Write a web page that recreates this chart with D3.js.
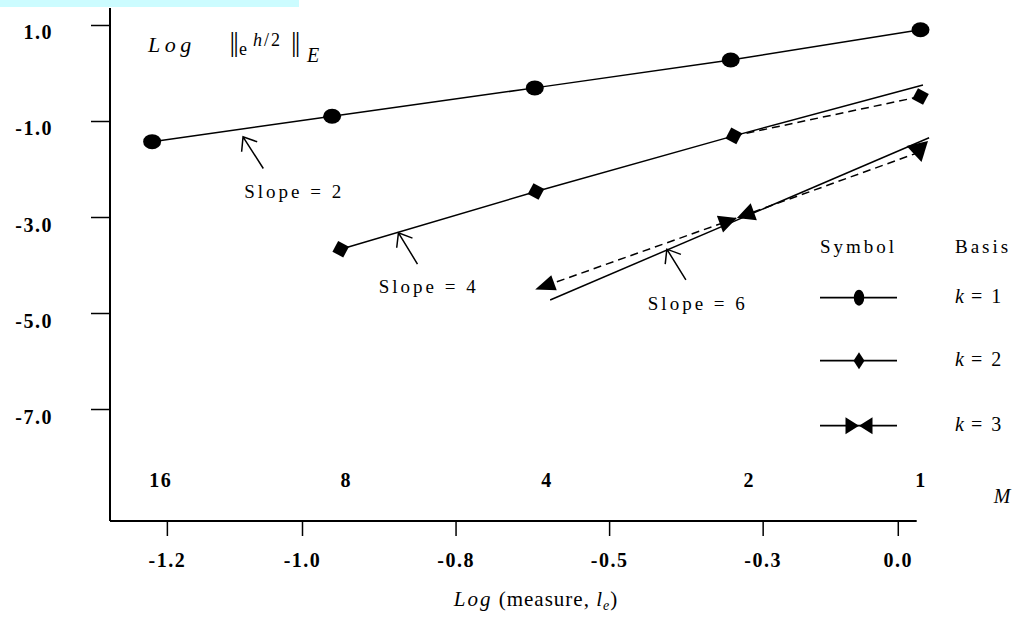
<!DOCTYPE html>
<html>
<head>
<meta charset="utf-8">
<script src="https://cdn.jsdelivr.net/npm/d3@7"></script>
<style>
  html, body { margin: 0; padding: 0; background: #fff; }
  svg { display: block; }
  text { font-family: "Liberation Serif", "Times New Roman", serif; fill: #000; }
</style>
</head>
<body>
<svg id="chart" width="1022" height="623"></svg>
<script>
// ---------------- data ----------------
const xTickValues = [-1.22, -1.0, -0.75, -0.5, -0.25, -0.03];
const xTickLabels = ["-1.2", "-1.0", "-0.8", "-0.5", "-0.3", "0.0"];
const yTickValues = [1, -1, -3, -5, -7];
const yTickLabels = ["1.0", "-1.0", "-3.0", "-5.0", "-7.0"];
const meshLabels = ["16", "8", "4", "2", "1"];
const meshLabelX = [-1.23, -0.928, -0.601, -0.272, 0.008];

// k = 1 (circles)
const k1X = [-1.244, -0.951, -0.621, -0.302, 0.007];
const k1Y = [-1.43, -0.90, -0.31, 0.27, 0.90];
// k = 2 (diamonds)
const k2X = [-0.937, -0.619, -0.297, 0.007];
const k2Y = [-3.67, -2.47, -1.31, -0.49];
// k = 2 slope-4 reference continuation (end point)
const k2RefEndX = [0.011];
const k2RefEndY = [-0.25];
// k = 3 (triangles)
const k3X = [-0.605, -0.292, 0.005];
const k3Y = [-4.44, -3.02, -1.65];
// k = 3 slope-6 reference line
const k3RefX = [-0.596, 0.021];
const k3RefY = [-4.73, -1.35];

// slope annotations
const slopeLabels = ["Slope = 2", "Slope = 4", "Slope = 6"];
const slopeTextX = [-1.094, -0.875, -0.437];
const slopeTextY = [-2.60, -4.58, -4.94];
const arrowTipX = [-1.096, -0.843, -0.406];
const arrowTipY = [-1.33, -3.33, -3.67];
const arrowTailX = [-1.063, -0.812, -0.375];
const arrowTailY = [-1.99, -3.98, -4.31];

// legend
const legendKeys = ["k = 1", "k = 2", "k = 3"];

// ---------------- scales ----------------
const svg = d3.select("#chart");
const x = d3.scaleLinear().domain([-1.3126, 0.0008]).range([110, 916.7]);
const y = d3.scaleLinear().domain([-9.333, 1.354]).range([521, 8]);

// top cyan band
svg.append("rect").attr("x", 0).attr("y", 0).attr("width", 299).attr("height", 7).attr("fill", "#ccfcff");

// ---------------- axes ----------------
const yAxis = d3.axisLeft(y).tickValues(yTickValues)
  .tickFormat((d, i) => yTickLabels[i]).tickSize(19).tickPadding(38);
const gy = svg.append("g").attr("transform", "translate(110,0)").call(yAxis);
gy.select(".domain").attr("d", `M0,${y.range()[1]}V${y.range()[0]}`).attr("stroke", "#000").attr("stroke-width", 2);
gy.selectAll(".tick line").attr("stroke", "#000").attr("stroke-width", 1.5);
gy.selectAll(".tick text").attr("dy", 14).attr("font-size", 20).attr("font-weight", "bold")
  .attr("letter-spacing", 1.5).attr("font-family", "Liberation Serif, serif").attr("fill", "#000");

const xAxis = d3.axisBottom(x).tickValues(xTickValues)
  .tickFormat((d, i) => xTickLabels[i]).tickSize(15).tickPadding(31);
const gx = svg.append("g").attr("transform", "translate(0,521)").call(xAxis);
gx.select(".domain").attr("d", `M${x.range()[0]},0H${x.range()[1]}`).attr("stroke", "#000").attr("stroke-width", 2);
gx.selectAll(".tick line").attr("stroke", "#000").attr("stroke-width", 1.5);
gx.selectAll(".tick text").attr("dy", 0).attr("font-size", 20).attr("font-weight", "bold")
  .attr("letter-spacing", 1.5).attr("font-family", "Liberation Serif, serif").attr("fill", "#000");

// mesh labels M
svg.append("g").selectAll("text").data(meshLabels).join("text")
  .attr("x", (d, i) => x(meshLabelX[i])).attr("y", 487)
  .attr("text-anchor", "middle").attr("font-size", 20).attr("font-weight", "bold")
  .attr("letter-spacing", 1.5).text(d => d);
svg.append("text").attr("x", 1002).attr("y", 503).attr("text-anchor", "middle")
  .attr("font-size", 20).attr("font-style", "italic").text("M");

// axis title
const title = svg.append("text").attr("x", 536).attr("y", 606).attr("text-anchor", "middle")
  .attr("font-size", 21).attr("letter-spacing", 1);
title.append("tspan").attr("font-style", "italic").attr("letter-spacing", 2).text("Log");
title.append("tspan").text(" (measure, ");
title.append("tspan").attr("font-style", "italic").text("l");
title.append("tspan").attr("font-style", "italic").attr("font-size", 14).attr("dy", 4).text("e");
title.append("tspan").attr("dy", -4).text(")");

// y label annotation
svg.append("text").attr("x", 148).attr("y", 52).attr("font-size", 22).attr("font-style", "italic")
  .attr("letter-spacing", 4.5).text("Log");
svg.append("text").attr("x", 229.5).attr("y", 51).attr("font-size", 28).attr("letter-spacing", -1.8).text("||");
svg.append("text").attr("x", 239).attr("y", 55).attr("font-size", 18).text("e");
const sup = svg.append("text").attr("x", 253).attr("y", 46).attr("font-size", 18).attr("letter-spacing", 2);
sup.append("tspan").attr("font-style", "italic").text("h");
sup.append("tspan").text("/2");
svg.append("text").attr("x", 291).attr("y", 51).attr("font-size", 28).attr("letter-spacing", -1.8).text("||");
svg.append("text").attr("x", 307).attr("y", 62).attr("font-size", 20).attr("font-style", "italic").text("E");

// ---------------- series ----------------
const line = d3.line().x(d => x(d[0])).y(d => y(d[1]));
const plot = svg.append("g");

// k = 1
const k1Pts = k1X.map((v, i) => [v, k1Y[i]]);
plot.append("path").attr("d", line(k1Pts)).attr("fill", "none").attr("stroke", "#000").attr("stroke-width", 1.5);
plot.selectAll(".c1").data(k1Pts).join("ellipse")
  .attr("cx", d => x(d[0])).attr("cy", d => y(d[1])).attr("rx", 9).attr("ry", 7.5).attr("fill", "#000");

// k = 2
const k2Pts = k2X.map((v, i) => [v, k2Y[i]]);
const k2Solid = k2Pts.slice(0, 3).concat([[k2RefEndX[0], k2RefEndY[0]]]);
plot.append("path").attr("d", line(k2Solid)).attr("fill", "none").attr("stroke", "#000").attr("stroke-width", 1.5);
plot.append("path").attr("d", line(k2Pts.slice(2))).attr("fill", "none").attr("stroke", "#000")
  .attr("stroke-width", 1.5).attr("stroke-dasharray", "8,5");
plot.selectAll(".d2").data(k2Pts).join("path")
  .attr("transform", d => `translate(${x(d[0])},${y(d[1])}) rotate(28)`)
  .attr("d", d3.symbol().type(d3.symbolSquare).size(150)()).attr("fill", "#000");

// k = 3
const k3Pts = k3X.map((v, i) => [v, k3Y[i]]);
const k3Ref = k3RefX.map((v, i) => [v, k3RefY[i]]);
plot.append("path").attr("d", line(k3Ref)).attr("fill", "none").attr("stroke", "#000").attr("stroke-width", 1.5);
plot.append("path").attr("d", line(k3Pts)).attr("fill", "none").attr("stroke", "#000")
  .attr("stroke-width", 1.5).attr("stroke-dasharray", "8,5");
const bowtie = (L, b) => `M${-L},${-b}L0,0L${-L},${b}ZM${L},${-b}L0,0L${L},${b}Z`;
const k3Shapes = [
  "M10,-8L-10,0L10,8Z",          // left end: triangle pointing left
  bowtie(18, 9),                  // middle: bow-tie
  "M-11,-9L11,-9L0,10Z"           // right end: triangle pointing down
];
const k3Rot = [-20, -20, -13];
plot.selectAll(".t3").data(k3Pts).join("path")
  .attr("transform", (d, i) => `translate(${x(d[0])},${y(d[1])}) rotate(${k3Rot[i]})`)
  .attr("d", (d, i) => k3Shapes[i]).attr("fill", "#000");

// ---------------- slope annotations ----------------
const ann = svg.append("g");
slopeLabels.forEach((lab, i) => {
  const tx = x(arrowTipX[i]), ty = y(arrowTipY[i]);
  const bx = x(arrowTailX[i]), by = y(arrowTailY[i]);
  const ang = Math.atan2(by - ty, bx - tx);
  const len = 15, spread = 38 * Math.PI / 180;
  const a1 = [tx + len * Math.cos(ang + spread), ty + len * Math.sin(ang + spread)];
  const a2 = [tx + len * Math.cos(ang - spread), ty + len * Math.sin(ang - spread)];
  ann.append("path")
    .attr("d", `M${bx},${by}L${tx},${ty}M${a1[0]},${a1[1]}L${tx},${ty}L${a2[0]},${a2[1]}`)
    .attr("fill", "none").attr("stroke", "#000").attr("stroke-width", 1.5);
  ann.append("text").attr("x", x(slopeTextX[i])).attr("y", y(slopeTextY[i]))
    .attr("font-size", 19).attr("letter-spacing", 3).text(lab);
});

// ---------------- legend ----------------
const lg = svg.append("g");
lg.append("text").attr("x", 820).attr("y", 253).attr("font-size", 19).attr("letter-spacing", 3).text("Symbol");
lg.append("text").attr("x", 955).attr("y", 253).attr("font-size", 19).attr("letter-spacing", 3).text("Basis");
const legY = [297.7, 360.7, 425.7];
legendKeys.forEach((k, i) => {
  lg.append("line").attr("x1", 820).attr("x2", 897).attr("y1", legY[i]).attr("y2", legY[i])
    .attr("stroke", "#000").attr("stroke-width", 1.8);
  const t = lg.append("text").attr("x", 955).attr("y", legY[i] + 5.5).attr("font-size", 20);
  t.append("tspan").attr("font-style", "italic").text("k");
  t.append("tspan").attr("letter-spacing", 2).text(k.slice(1));
});
lg.append("ellipse").attr("cx", 859).attr("cy", legY[0]).attr("rx", 5.2).attr("ry", 8).attr("fill", "#000");
lg.append("path").attr("transform", `translate(859,${legY[1]})`)
  .attr("d", "M0,-8.5L5.5,0L0,8.5L-5.5,0Z").attr("fill", "#000");
lg.append("path").attr("transform", `translate(859,${legY[2]})`)
  .attr("d", bowtie(13.5, 8.5)).attr("fill", "#000");
</script>
</body>
</html>
